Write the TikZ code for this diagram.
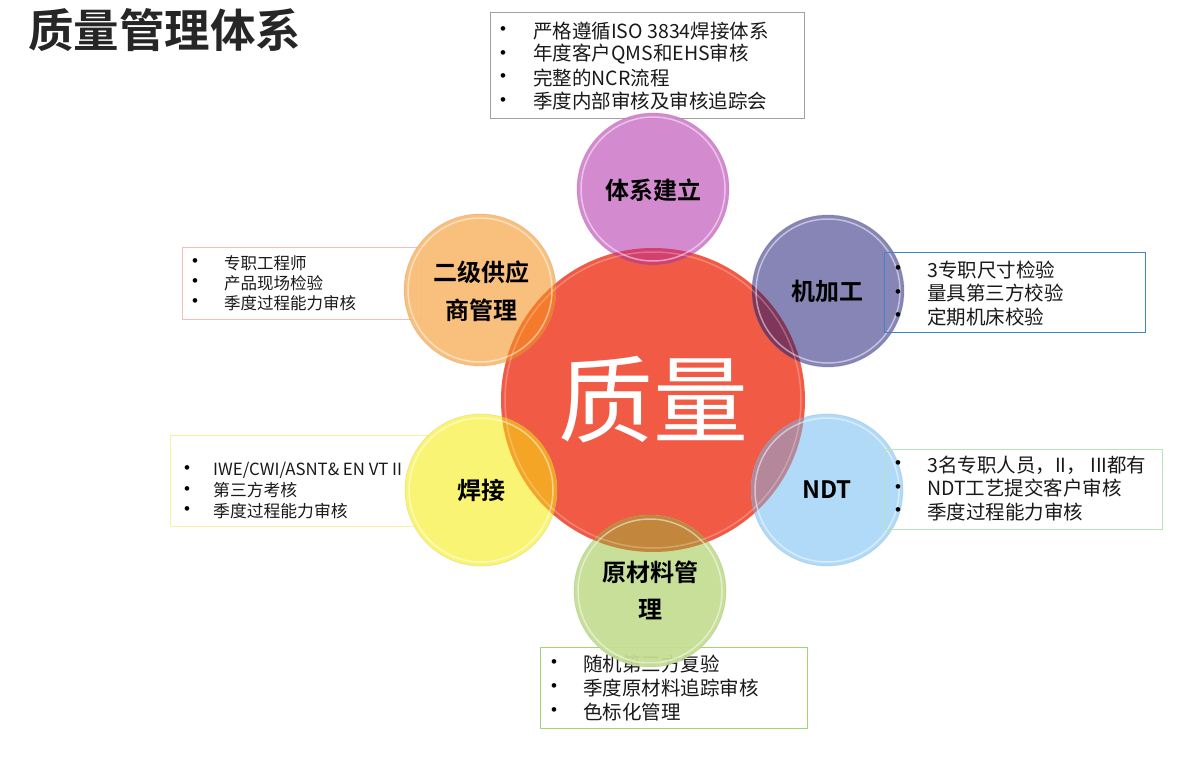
\documentclass[tikz,border=0pt]{standalone}
\usepackage{fontspec}
\setmainfont{Noto Sans CJK SC}[BoldFont={Noto Sans CJK SC Bold}]
\newfontfamily\libfont{Liberation Sans}
\definecolor{cenC}{HTML}{F15B46}
\definecolor{colA}{HTML}{D283CD}\definecolor{lenA}{HTML}{D2406F}
\definecolor{colB}{HTML}{F9BB75}\definecolor{lenB}{HTML}{F47A2C}
\definecolor{colC}{HTML}{7F7EB2}\definecolor{lenC}{HTML}{80365A}
\definecolor{colD}{HTML}{FAF46C}\definecolor{lenD}{HTML}{F5A526}
\definecolor{colE}{HTML}{ADD8F8}\definecolor{lenE}{HTML}{B4879A}
\definecolor{colF}{HTML}{C5DD93}\definecolor{lenF}{HTML}{C2873C}
\definecolor{bxA}{HTML}{A0A0A0}
\definecolor{bxB}{HTML}{F4BDBD}
\definecolor{bxC}{HTML}{3C85C8}
\definecolor{bxD}{HTML}{F6F2A0}
\definecolor{bxE}{HTML}{B8E2B8}
\definecolor{bxF}{HTML}{9ED86E}
\begin{document}
\begin{tikzpicture}[x=1pt,y=-1pt,
  li/.style={anchor=west, inner sep=0pt, text=black!90},
  bul/.style={inner sep=0pt, text=black, font=\libfont\fontsize{17}{19}\selectfont},
  lab/.style={font=\fontsize{24}{28}\selectfont\bfseries, text=black, align=center, inner sep=0pt},
  tbox/.style={anchor=north west, line width=0.9pt, inner sep=0pt},
  bub/.style={circle, inner sep=0pt, minimum size=152pt, fill opacity=0.94},
  rim/.style={white, opacity=0.5, line width=1.5pt}]
\useasboundingbox (0,0) rectangle (1200,757);
\fill[white] (0,0) rectangle (1200,757);

% title
\node[anchor=west, inner sep=0pt, font=\fontsize{45.5}{50}\selectfont\bfseries, text=black!85] (title) at (28,30) {质量管理体系};

% text boxes lying under the circles
\node[tbox, draw=bxA, minimum width=314pt, minimum height=106pt] (boxA) at (490,12) {};
\node[tbox, draw=bxB, minimum width=239pt, minimum height=72pt] (boxB) at (182,247) {};
\node[tbox, draw=bxD, minimum width=264pt, minimum height=91pt] (boxD) at (170,435) {};
\node[tbox, draw=bxF, minimum width=267pt, minimum height=81pt] (boxF) at (540,647) {};

\foreach \t [count=\i] in {严格遵循ISO 3834焊接体系, 年度客户QMS和EHS审核, 完整的NCR流程, 季度内部审核及审核追踪会}{
  \node[li, font=\fontsize{19.5}{23}\selectfont] (tA-\i) at (533,{31+23.4*(\i-1)}) {\t};
  \node[bul] (dA-\i) at (503,{31+23.4*(\i-1)}) {\textbullet};
}
\foreach \t [count=\i] in {专职工程师, 产品现场检验, 季度过程能力审核}{
  \node[li, font=\fontsize{16.5}{20}\selectfont] (tB-\i) at (224,{263+20*(\i-1)}) {\t};
  \node[bul] (dB-\i) at (195,{263+20*(\i-1)}) {\textbullet};
}
\foreach \t [count=\i] in {IWE/CWI/ASNT\& EN VT II, 第三方考核, 季度过程能力审核}{
  \node[li, font=\fontsize{16.8}{20}\selectfont] (tD-\i) at (213,{470+20.5*(\i-1)}) {\t};
  \node[bul] (dD-\i) at (187,{470+20.5*(\i-1)}) {\textbullet};
}
\foreach \t [count=\i] in {随机第三方复验, 季度原材料追踪审核, 色标化管理}{
  \node[li, font=\fontsize{19.5}{23}\selectfont] (tF-\i) at (583,{664+24*(\i-1)}) {\t};
  \node[bul] (dF-\i) at (554,{664+24*(\i-1)}) {\textbullet};
}

% central circle
\node[circle, inner sep=0pt, minimum size=304pt, fill=cenC] (cen) at (653,400) {};

% satellite circles
\node[bub, fill=colA] (cA) at (653,189) {};
\node[bub, fill=colB] (cB) at (480,290) {};
\node[bub, fill=colC] (cC) at (828,291) {};
\node[bub, fill=colD] (cD) at (481,490) {};
\node[bub, fill=colE] (cE) at (827,490) {};
\node[bub, fill=colF] (cF) at (650,591) {};

% overlaps
\begin{scope}
  \clip (cen.center) circle[radius=152pt];
  \fill[lenA] (cA.center) circle[radius=76pt];
  \fill[lenB] (cB.center) circle[radius=76pt];
  \fill[lenC] (cC.center) circle[radius=76pt];
  \fill[lenD] (cD.center) circle[radius=76pt];
  \fill[lenE] (cE.center) circle[radius=76pt];
  \fill[lenF] (cF.center) circle[radius=76pt];
\end{scope}

% glassy rims
\foreach \n/\c in {cA/colA, cB/colB, cC/colC, cD/colD, cE/colE, cF/colF}{
  \draw[rim] (\n.center) circle[radius=72pt];
  \draw[\c!75!black, opacity=0.25, line width=0.8pt] (\n.center) circle[radius=76pt];
}
\draw[white, opacity=0.25, line width=1.5pt] (cen.center) circle[radius=148pt];

% text boxes lying over the circles
\node[tbox, draw=bxC, minimum width=261pt, minimum height=80pt] (boxC) at (884,252) {};
\node[tbox, draw=bxE, minimum width=278pt, minimum height=80pt] (boxE) at (884,449) {};
\foreach \t [count=\i] in {3专职尺寸检验, 量具第三方校验, 定期机床校验}{
  \node[li, font=\fontsize{19.5}{23}\selectfont] (tC-\i) at (927,{270+23.5*(\i-1)}) {\t};
  \node[bul] (dC-\i) at (898,{270+23.5*(\i-1)}) {\textbullet};
}
\foreach \t [count=\i] in {3名专职人员，II，  III都有, NDT工艺提交客户审核, 季度过程能力审核}{
  \node[li, font=\fontsize{19.5}{23}\selectfont] (tE-\i) at (927,{465+23.3*(\i-1)}) {\t};
  \node[bul] (dE-\i) at (898,{465+23.3*(\i-1)}) {\textbullet};
}

% labels
\node[lab] (lA) at (653,190) {体系建立};
\node[lab] (lB1) at (481,272) {二级供应};
\node[lab] (lB2) at (481,310) {商管理};
\node[lab] (lC) at (827,291) {机加工};
\node[lab] (lD) at (481,490) {焊接};
\node[lab] (lE) at (827,490) {NDT};
\node[lab] (lF1) at (650,572) {原材料管};
\node[lab] (lF2) at (650,610) {理};
\node[inner sep=0pt, font=\fontsize{95}{100}\selectfont, text=white] (zl) at (653,400) {质量};
\end{tikzpicture}
\end{document}
